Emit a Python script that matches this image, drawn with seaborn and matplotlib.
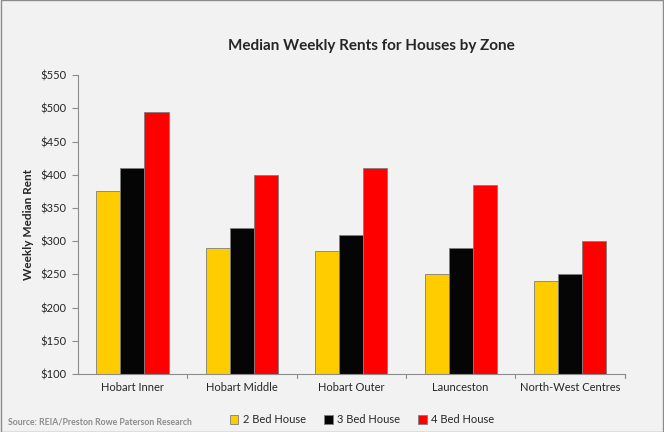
import numpy as np
import pandas as pd
import matplotlib.pyplot as plt
import seaborn as sns

zones = ["Hobart Inner", "Hobart Middle", "Hobart Outer", "Launceston", "North-West Centres"]
bed2 = [375, 290, 285, 250, 240]
bed3 = [410, 320, 310, 290, 250]
bed4 = [495, 400, 410, 385, 300]
series = ["2 Bed House", "3 Bed House", "4 Bed House"]
colors = ["#ffcc00", "#050505", "#ff0000"]
yticks = [100, 150, 200, 250, 300, 350, 400, 450, 500, 550]

df = pd.DataFrame({
    "Zone": zones * 3,
    "Type": [s for s in series for _ in zones],
    "Rent": bed2 + bed3 + bed4,
})

sns.set_style("white")
plt.rcParams['font.family'] = ['Lato', 'DejaVu Sans']

fig = plt.figure(figsize=(6.64, 4.32), dpi=100, facecolor="#f2f2f2")
ax = fig.add_axes([0.117, 0.134, 0.824, 0.692])
ax.set_facecolor("#f2f2f2")

sns.barplot(data=df, x="Zone", y="Rent", hue="Type", palette=colors, width=0.66,
            saturation=1, edgecolor="#7f7f7f", linewidth=0.6, ax=ax, legend=True)

ax.set_ylim(100, 550)
ax.set_yticks(yticks)
ax.set_yticklabels([f"${v}" for v in yticks], fontsize=8)
ax.set_xlim(-0.5, len(zones) - 0.5)
ax.set_xticks(range(len(zones)))
ax.set_xticklabels(zones, fontsize=8)
ax.tick_params(axis="x", length=0, pad=6)
ax.tick_params(axis="y", length=4, color="#8c8c8c", direction="out", left=True, pad=4)
for b in np.arange(0.5, len(zones), 1):
    ax.plot([b, b], [100, 100 - 450 * 0.012], color="#8c8c8c", lw=0.8, clip_on=False)
ax.plot([len(zones) - 0.5] * 2, [100, 100 - 450 * 0.012], color="#8c8c8c", lw=0.8, clip_on=False)

for side in ["top", "right"]:
    ax.spines[side].set_visible(False)
for side in ["left", "bottom"]:
    ax.spines[side].set_color("#8c8c8c")
    ax.spines[side].set_linewidth(0.8)

ax.set_xlabel("")
ax.set_ylabel("Weekly Median Rent", fontsize=8.5, fontweight="bold", labelpad=5)

fig.text(0.56, 0.893, "Median Weekly Rents for Houses by Zone", ha="center", va="center",
         fontsize=11, fontweight="bold")
fig.text(0.012, 0.012, "Source: REIA/Preston Rowe Paterson Research", fontsize=6.3,
         color="#8c8c8c", fontweight="bold", ha="left", va="bottom")

ax.legend_.remove()
handles = [plt.Rectangle((0, 0), 1, 1, facecolor=c, edgecolor="#7f7f7f", lw=0.6) for c in colors]
fig.legend(handles, series, loc="center", bbox_to_anchor=(0.545, 0.028), ncol=3, frameon=False,
           fontsize=8, handlelength=0.8, handleheight=0.8, handletextpad=0.4, columnspacing=1.6)

fig.patches.append(plt.Rectangle((0.001, 0.001), 0.998, 0.998, transform=fig.transFigure,
                                 fill=False, edgecolor="#8c8c8c", lw=1))

fig.savefig("out.png", dpi=100, facecolor=fig.get_facecolor())
